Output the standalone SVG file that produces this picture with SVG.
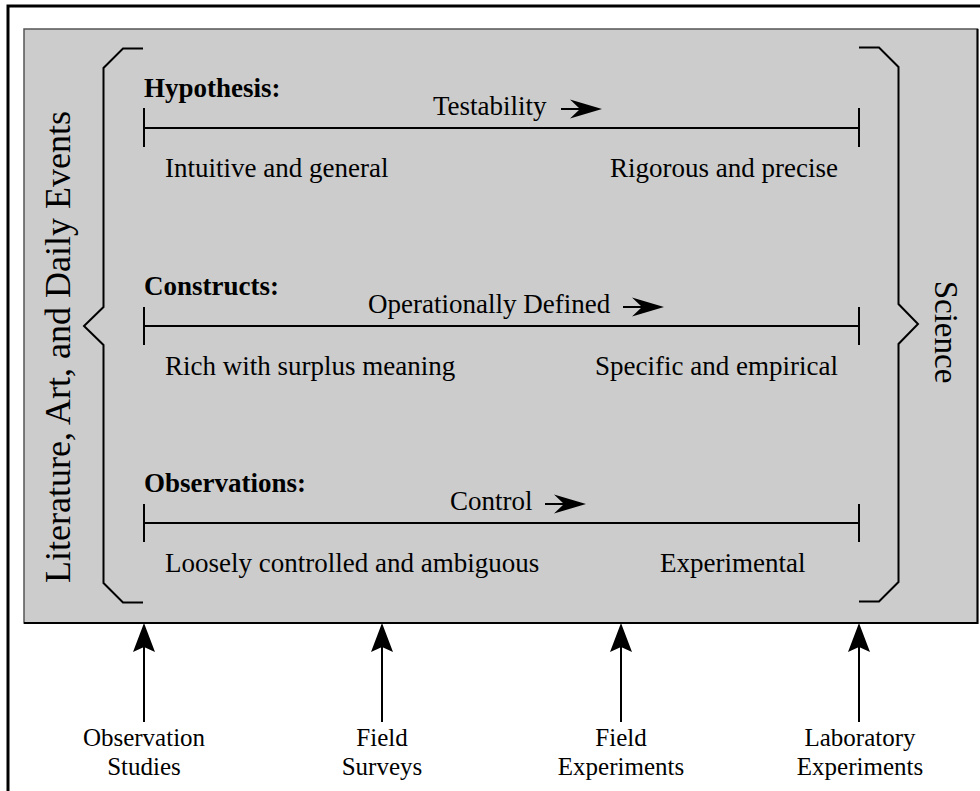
<svg xmlns="http://www.w3.org/2000/svg" width="980" height="791" viewBox="0 0 980 791">
<style>
.t{font-family:"Liberation Serif","Times New Roman",serif;font-size:27px;fill:#000}
.s{font-size:25px}
.b{font-weight:bold}
.ln{stroke:#000;stroke-width:2;fill:none}
.br{stroke:#000;stroke-width:2;fill:none;stroke-linejoin:miter}
</style>
<defs>
<marker id="ha" markerUnits="userSpaceOnUse" markerWidth="34" markerHeight="22" refX="10" refY="9.5" orient="auto" overflow="visible">
<path d="M0,0 L32,9.5 L0,19 L10,9.5 Z" fill="#000"/>
</marker>
<marker id="va" markerUnits="userSpaceOnUse" markerWidth="30" markerHeight="24" refX="5" refY="11" orient="auto" overflow="visible">
<path d="M0,0 L29,11 L0,22 L5,11 Z" fill="#000"/>
</marker>
</defs>
<rect width="980" height="791" fill="#fff"/>
<polyline points="8,791 8,6 980,6" fill="none" stroke="#000" stroke-width="3"/>
<g id="science-box">
<rect x="24" y="29" width="953.5" height="594" fill="#cccccc" stroke="#555" stroke-width="1.5"/>
<polyline points="977.5,29 977.5,623 24,623" fill="none" stroke="#000" stroke-width="2"/>
</g>
<g id="left-brace">
<polyline class="br" points="143,48.5 123,48.5 103.5,68 103.5,307 84,326 103.5,345 103.5,583 123,602.5 143,602.5"/>
<text class="t" style="font-size:36px" transform="translate(69.5,347) rotate(-90)" text-anchor="middle">Literature, Art, and Daily Events</text>
</g>
<g id="right-brace">
<polyline class="br" points="859,47.5 879,47.5 898.5,67 898.5,304 918,324 898.5,344 898.5,582 879,601.5 859,601.5"/>
<text class="t" style="font-size:33px" transform="translate(935,332) rotate(90)" text-anchor="middle">Science</text>
</g>
<g id="hypothesis">
<text class="t b" x="144" y="97">Hypothesis:</text>
<text class="t" x="433" y="115">Testability</text>
<line class="ln" x1="144" y1="128" x2="859" y2="128"/>
<line class="ln" x1="144" y1="108" x2="144" y2="147"/>
<line class="ln" x1="859" y1="108" x2="859" y2="147"/>
<text class="t" x="165" y="177">Intuitive and general</text>
<text class="t" x="838" y="177" text-anchor="end">Rigorous and precise</text>
</g>
<g id="constructs">
<text class="t b" x="144" y="295">Constructs:</text>
<text class="t" x="368" y="313">Operationally Defined</text>
<line class="ln" x1="144" y1="326" x2="859" y2="326"/>
<line class="ln" x1="144" y1="307" x2="144" y2="345"/>
<line class="ln" x1="859" y1="307" x2="859" y2="345"/>
<text class="t" x="165" y="375">Rich with surplus meaning</text>
<text class="t" x="838" y="375" text-anchor="end">Specific and empirical</text>
</g>
<g id="observations">
<text class="t b" x="144" y="492">Observations:</text>
<text class="t" x="450" y="510">Control</text>
<line class="ln" x1="144" y1="523" x2="859" y2="523"/>
<line class="ln" x1="144" y1="504" x2="144" y2="542"/>
<line class="ln" x1="859" y1="504" x2="859" y2="542"/>
<text class="t" x="165" y="572">Loosely controlled and ambiguous</text>
<text class="t" x="660" y="572">Experimental</text>
</g>
<g id="observation-studies">
<text class="t s" x="144" y="746" text-anchor="middle">Observation</text>
<text class="t s" x="144" y="775" text-anchor="middle">Studies</text>
</g>
<g id="field-surveys">
<text class="t s" x="382" y="746" text-anchor="middle">Field</text>
<text class="t s" x="382" y="775" text-anchor="middle">Surveys</text>
</g>
<g id="field-experiments">
<text class="t s" x="621" y="746" text-anchor="middle">Field</text>
<text class="t s" x="621" y="775" text-anchor="middle">Experiments</text>
</g>
<g id="laboratory-experiments">
<text class="t s" x="860" y="746" text-anchor="middle">Laboratory</text>
<text class="t s" x="860" y="775" text-anchor="middle">Experiments</text>
</g>
<g id="connectors">
<line class="ln" x1="561" y1="109" x2="580" y2="109" marker-end="url(#ha)"/>
<line class="ln" x1="623" y1="307" x2="642" y2="307" marker-end="url(#ha)"/>
<line class="ln" x1="545" y1="504" x2="564" y2="504" marker-end="url(#ha)"/>
<line class="ln" x1="144" y1="722" x2="144" y2="647" marker-end="url(#va)"/>
<line class="ln" x1="382" y1="722" x2="382" y2="647" marker-end="url(#va)"/>
<line class="ln" x1="621" y1="722" x2="621" y2="647" marker-end="url(#va)"/>
<line class="ln" x1="859" y1="722" x2="859" y2="647" marker-end="url(#va)"/>
</g>
</svg>
